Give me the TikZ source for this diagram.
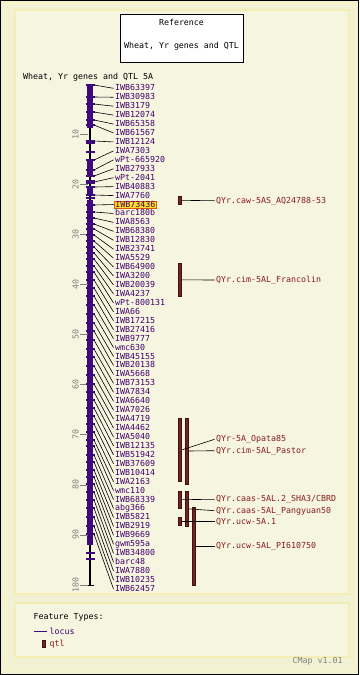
\documentclass[tikz,border=0pt]{standalone}
\usepackage{fontspec}
\newfontfamily\cmapmono{DejaVu Sans Mono}
\newcommand\cmaplabfont{\cmapmono\fontsize{8.3}{9}\selectfont}
\definecolor{bgouter}{RGB}{243,241,212}
\definecolor{panelfill}{RGB}{246,245,224}
\definecolor{panelline}{RGB}{244,238,180}
\definecolor{locusc}{RGB}{60,10,125}
\definecolor{locustext}{RGB}{64,0,110}
\definecolor{qtlfill}{RGB}{112,36,36}
\definecolor{qtlborder}{RGB}{70,15,15}
\definecolor{qtltext}{RGB}{135,30,30}
\definecolor{hlfill}{RGB}{255,222,40}
\definecolor{hlborder}{RGB}{220,90,0}
\definecolor{scalegray}{RGB}{128,128,128}
\begin{document}
\begin{tikzpicture}[x=1pt,y=-1pt,
  mk/.style={anchor=west, inner xsep=1.5pt, inner ysep=1pt, text height=6pt, text depth=1pt, font=\cmaplabfont, text=locustext},
  hl/.style={mk, inner ysep=0.2pt, text height=5.8pt, text depth=0.8pt, fill=hlfill, draw=hlborder, line width=0.8pt},
  conn/.style={draw=black, line width=0.6pt},
  qtlbox/.style={rectangle, draw=qtlborder, fill=qtlfill, line width=0.5pt, minimum width=3.4pt, inner sep=0pt},
  qlab/.style={anchor=west, inner xsep=1.5pt, inner ysep=1pt, text height=6pt, text depth=1pt, font=\cmaplabfont, text=qtltext},
  plain/.style={anchor=west, inner sep=0pt, font=\cmaplabfont, text=black},
  scalelab/.style={rotate=90, inner sep=0pt, font=\cmaplabfont, text=scalegray},
  scaletick/.style={draw=scalegray, line width=0.8pt},
  ltick/.style={draw=locusc, line width=1.2pt},
  lblock/.style={fill=locusc},
  panel/.style={fill=panelfill, draw=panelline, line width=1.5pt}
]
\useasboundingbox (0,0) rectangle (359,675);
% background and frames
\fill[bgouter] (0,0) rectangle (359,675);
\draw[black, line width=1pt] (0.5,0.5) rectangle (358.5,674.5);
\draw[draw={rgb,255:red,250;green,246;blue,190}, line width=1pt] (5,3) rectangle (354,670);
\draw[panel] (15,10) rectangle (349,594);
\draw[panel] (15,603) rectangle (349,657);
% reference box
\node[draw=black, fill=white, line width=0.8pt, minimum width=123pt, minimum height=48pt, inner sep=0pt] (refbox) at (181.5,38) {};
\node[font=\cmaplabfont, inner sep=0pt] (reft1) at (181.5,22) {Reference};
\node[font=\cmaplabfont, inner sep=0pt] (reft2) at (181.5,46) {Wheat, Yr genes and QTL};
% title
\node[plain] (title) at (23,77) {Wheat, Yr genes and QTL 5A};
% chromosome axis
\draw[black, line width=2pt] (90,84.5) -- (90,585);
\draw[black, line width=1pt] (86,585) -- (94,585);
% purple blocks
\fill[lblock] (87,85) rectangle (93,128);
\fill[lblock] (87,159) rectangle (93,177);
\fill[lblock] (87,187) rectangle (93,196);
\fill[lblock] (87,200) rectangle (93,545);
\foreach \t in {141,143,152,181,183,198,553,559}{
  \draw[ltick] (85.5,\t) -- (94.5,\t);
}
% scale
\foreach \v in {10,20,...,100}{
  \draw[scaletick] (80,{84.5+\v*5.005}) -- (88,{84.5+\v*5.005});
  \node[scalelab] (s\v) at (75.5,{84.5+\v*5.005}) {\v};
}
% markers
\foreach \nm/\ym/\st [count=\i] in {
IWB63397/85/mk, IWB30983/97/mk, IWB3179/104/mk, IWB12074/112/mk, IWB65358/120/mk,
IWB61567/125/mk, IWB12124/141/mk, IWA7303/160/mk, wPt-665920/170/mk, IWB27933/176/mk,
wPt-2041/182/mk, IWB40883/187/mk, IWA7760/195/mk, IWB73436/205/hl, barc180b/212/mk,
IWA8563/218/mk, IWB68380/224/mk, IWB12830/229/mk, IWB23741/235/mk, IWA5529/241/mk,
IWB64900/247/mk, IWA3200/253/mk, IWB20039/259/mk, IWA4237/266/mk, wPt-800131/272/mk,
IWA66/280/mk, IWB17215/288/mk, IWB27416/296/mk, IWB9777/305/mk, wmc630/314/mk,
IWB45155/323/mk, IWB20138/331/mk, IWA5668/340/mk, IWB73153/349/mk, IWA7834/357/mk,
IWA6640/366/mk, IWA7026/375/mk, IWA4719/384/mk, IWA4462/392/mk, IWA5040/400/mk,
IWB12135/408/mk, IWB51942/416/mk, IWB37609/424/mk, IWB10414/432/mk, IWA2163/440/mk,
wmc110/446/mk, IWB68339/455/mk, abg366/462/mk, IWB5821/470/mk, IWB2919/477/mk,
IWB9669/484/mk, gwm595a/492/mk, IWB34800/500/mk, barc48/508/mk, IWA7880/517/mk,
IWB10235/526/mk, IWB62457/534/mk}{
  \draw[ltick] (85.5,\ym) -- (94.5,\ym);
  \coordinate (c\i) at (94,\ym);
  \node[\st] (m\i) at (113.5,{88.3+(\i-1)*8.94}) {\nm};
  \draw[conn] (c\i) -- (m\i.west);
}
% QTLs
\node[qtlbox, minimum height=7.3pt] (qcaw) at (180,200.35) {};
\node[qtlbox, minimum height=33.7pt] (qfr) at (180,279.85) {};
\node[qtlbox, minimum height=63.7pt] (qA) at (180,449.85) {};
\node[qtlbox, minimum height=66pt] (qB) at (186.7,451) {};
\node[qtlbox, minimum height=17.3pt] (qC) at (180,499.65) {};
\node[qtlbox, minimum height=35.7pt] (qD) at (186.7,508.85) {};
\node[qtlbox, minimum height=78pt] (qE) at (193.8,546) {};
\node[qtlbox, minimum height=8pt] (qF) at (180,521.7) {};
\node[qlab] (lcaw) at (214.5,200.7) {QYr.caw-5AS\_AQ24788-53};
\node[qlab] (lfr) at (214.5,280) {QYr.cim-5AL\_Francolin};
\node[qlab] (lA) at (214.5,439.3) {QYr-5A\_Opata85};
\node[qlab] (lB) at (214.5,450.7) {QYr.cim-5AL\_Pastor};
\node[qlab] (lC) at (214.5,499.3) {QYr.caas-5AL.2\_SHA3/CBRD};
\node[qlab] (lD) at (214.5,510.7) {QYr.caas-5AL\_Pangyuan50};
\node[qlab] (lF) at (214.5,521.7) {QYr.ucw-5A.1};
\node[qlab] (lE) at (214.5,546) {QYr.ucw-5AL\_PI610750};
\draw[conn] (qcaw.east) -- (lcaw.west);
\draw[conn] (qfr.east) -- (lfr.west);
\draw[conn] (qA.east) -- (lA.west);
\draw[conn] (qB.east) -- (lB.west);
\draw[conn] (qC.east) -- (lC.west);
\draw[conn] (qD.east) -- (lD.west);
\draw[conn] (qF.east) -- (lF.west);
\draw[conn] (qE.east) -- (lE.west);
% legend
\node[plain] (ft) at (33.5,617) {Feature Types:};
\coordinate (lg1) at (34,631);
\coordinate (lg2) at (47,631);
\draw[draw=locusc, line width=1pt] (lg1) -- (lg2);
\node[plain, text=locustext] (lglocus) at (49.5,631) {locus};
\node[qtlbox, minimum height=7.7pt, minimum width=2.7pt] (lgq) at (43.6,643.8) {};
\node[plain, text=qtltext] (lgqtl) at (49.5,644) {qtl};
\node[plain, text=scalegray] (ver) at (292.5,661) {CMap v1.01};
\end{tikzpicture}
\end{document}
